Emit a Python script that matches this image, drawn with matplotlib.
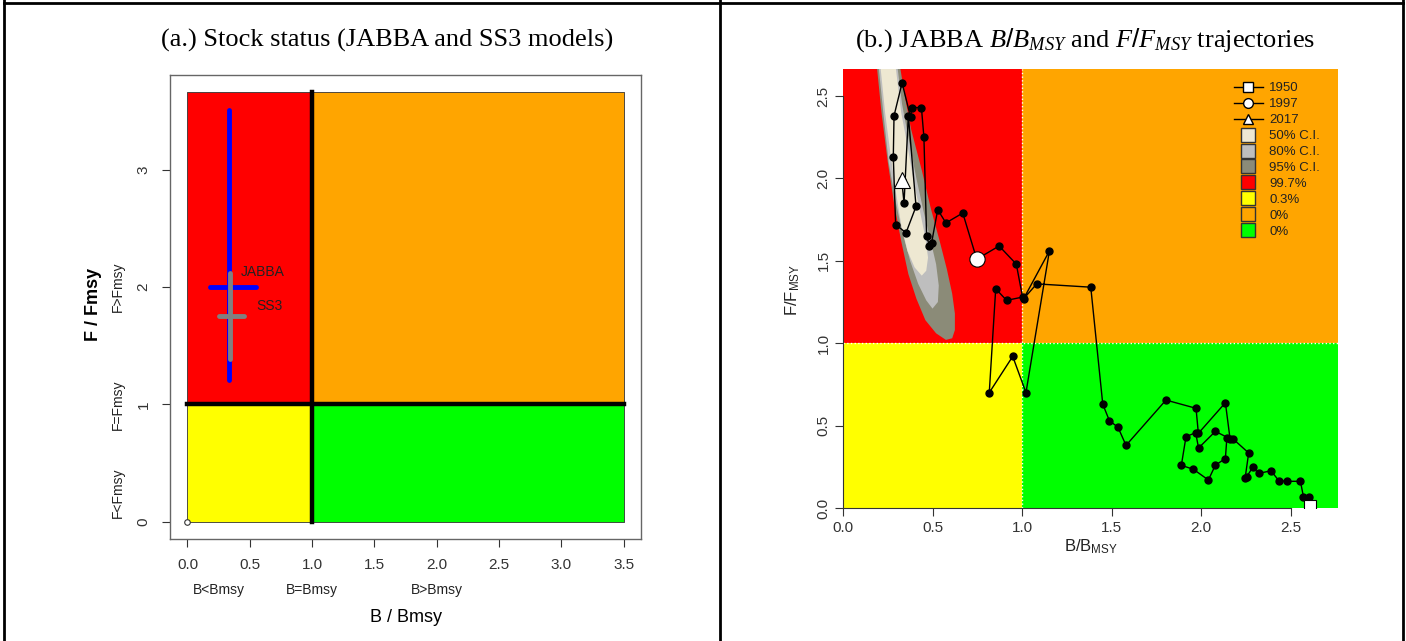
import matplotlib.pyplot as plt
from matplotlib.lines import Line2D

plt.rcParams['font.family'] = ['Liberation Sans', 'DejaVu Sans']
plt.rcParams['mathtext.fontset'] = 'custom'
plt.rcParams['mathtext.rm'] = 'Liberation Sans'
plt.rcParams['mathtext.it'] = 'Liberation Serif:italic'

# ---- panel (a): stock status, JABBA and SS3 ----
models = ["JABBA", "SS3"]
model_b = [0.33, 0.34]
model_f = [2.00, 1.75]
model_b_lo = [0.18, 0.25]
model_b_hi = [0.55, 0.45]
model_f_lo = [1.21, 1.39]
model_f_hi = [3.51, 2.12]
model_colors = ["blue", "grey"]
label_xy = [(0.43, 2.13), (0.55, 1.84)]

b_max_a = 3.5
f_max_a = 3.66
xticks_a = [0.0, 0.5, 1.0, 1.5, 2.0, 2.5, 3.0, 3.5]
yticks_a = [0, 1, 2, 3]
b_zone_labels = ["B<Bmsy", "B=Bmsy", "B>Bmsy"]
b_zone_pos = [0.25, 1.0, 2.0]
f_zone_labels = ["F<Fmsy", "F=Fmsy", "F>Fmsy"]
f_zone_pos = [0.25, 1.0, 2.0]

# ---- panel (b): JABBA trajectory 1950-2017 ----
traj_b = [2.611, 2.605, 2.572, 2.555, 2.479, 2.434, 2.391, 2.322, 2.289, 2.255,
          2.246, 2.266, 2.181, 2.144, 2.136, 2.080, 2.041, 1.957, 1.890, 1.916,
          1.970, 1.986, 2.080, 2.162, 2.136, 1.985, 1.972, 1.804, 1.581, 1.536,
          1.488, 1.451, 1.384, 1.082, 1.009, 1.153, 1.022, 0.948, 0.817, 0.853,
          0.914, 1.003, 0.968, 0.872, 0.747, 0.669, 0.575, 0.529, 0.495, 0.483,
          0.467, 0.452, 0.438, 0.384, 0.378, 0.330, 0.285, 0.281, 0.294, 0.352,
          0.408, 0.365, 0.341, 0.328]
traj_f = [0.012, 0.065, 0.069, 0.162, 0.162, 0.166, 0.226, 0.210, 0.247, 0.190,
          0.180, 0.334, 0.417, 0.423, 0.300, 0.260, 0.170, 0.235, 0.259, 0.433,
          0.457, 0.364, 0.465, 0.420, 0.639, 0.453, 0.605, 0.655, 0.380, 0.490,
          0.530, 0.630, 1.340, 1.360, 1.270, 1.560, 0.700, 0.920, 0.700, 1.330,
          1.260, 1.280, 1.480, 1.590, 1.510, 1.790, 1.730, 1.810, 1.610, 1.590,
          1.650, 2.250, 2.430, 2.430, 2.370, 2.580, 2.380, 2.130, 1.720, 1.670,
          1.830, 2.380, 1.850, 1.990]
year_labels = ["1950", "1997", "2017"]
year_index = [0, 44, 63]
year_markers = ["s", "o", "^"]

# kernel density regions of the last year (outline)
ci95_b = [0.19, 0.215, 0.25, 0.285, 0.325, 0.365, 0.41, 0.46, 0.52, 0.575, 0.61,
          0.625, 0.625, 0.61, 0.58, 0.54, 0.49, 0.44, 0.38, 0.345, 0.32]
ci95_f = [2.67, 2.40, 2.10, 1.85, 1.62, 1.42, 1.27, 1.14, 1.06, 1.02, 1.03,
          1.08, 1.18, 1.30, 1.45, 1.62, 1.82, 2.05, 2.30, 2.50, 2.67]
ci80_b = [0.20, 0.225, 0.255, 0.29, 0.33, 0.375, 0.42, 0.465, 0.50,
          0.53, 0.535, 0.52, 0.49, 0.45, 0.41, 0.365, 0.33, 0.305]
ci80_f = [2.67, 2.40, 2.10, 1.88, 1.68, 1.50, 1.36, 1.26, 1.21,
          1.25, 1.35, 1.48, 1.62, 1.80, 2.00, 2.25, 2.45, 2.67]
ci50_b = [0.21, 0.235, 0.265, 0.295, 0.325, 0.36, 0.40, 0.44,
          0.465, 0.475, 0.46, 0.43, 0.395, 0.36, 0.325, 0.295]
ci50_f = [2.67, 2.40, 2.15, 1.92, 1.72, 1.56, 1.46, 1.41,
          1.44, 1.52, 1.64, 1.80, 1.98, 2.20, 2.40, 2.67]
ci_colors = ["#8b8b78", "#bebebe", "#eee8d2"]
ci_labels = ["50% C.I.", "80% C.I.", "95% C.I."]
quad_labels = ["99.7%", "0.3%", "0%", "0%"]
quad_colors = ["#ff0000", "#ffff00", "#ffa500", "#00ff00"]

xlim_b = (0, 2.765)
ylim_b = (0, 2.664)
ticks_b = [0.0, 0.5, 1.0, 1.5, 2.0, 2.5]

fig = plt.figure(figsize=(14.06, 6.41), dpi=100)

# table borders around the two cells
for xs, ys in [([0.003, 0.003], [0, 1]), ([0.512, 0.512], [0, 1]),
               ([0.998, 0.998], [0, 1]), ([0.003, 0.998], [0.995, 0.995])]:
    fig.add_artist(Line2D(xs, ys, transform=fig.transFigure, color="black", lw=2))

fig.text(387 / 1406, 1 - 40 / 641, "(a.) Stock status (JABBA and SS3 models)",
         family="Liberation Serif", fontsize=19, ha="center", va="center")
fig.text(1085 / 1406, 1 - 40 / 641,
         r"(b.) JABBA $\mathit{B/B_{MSY}}$ and $\mathit{F/F_{MSY}}$ trajectories",
         family="Liberation Serif", fontsize=19, ha="center", va="center")

# ---------------- panel a ----------------
ax1 = fig.add_axes([170 / 1406, (641 - 539) / 641, 471 / 1406, 464 / 641])
ax1.fill_between([0, 1], 1, f_max_a, color="#ff0000", ec="#333333", lw=0.6)
ax1.fill_between([1, b_max_a], 1, f_max_a, color="#ffa500", ec="#333333", lw=0.6)
ax1.fill_between([0, 1], 0, 1, color="#ffff00", ec="#333333", lw=0.6)
ax1.fill_between([1, b_max_a], 0, 1, color="#00ff00", ec="#333333", lw=0.6)
ax1.plot([0, b_max_a], [1, 1], color="black", lw=3.2)
ax1.plot([1, 1], [0, f_max_a], color="black", lw=3.2)
ax1.plot([0], [0], marker="o", ms=4, mfc="white", mec="#333333", mew=0.8)

for i in range(len(models)):
    ax1.plot([model_b[i], model_b[i]], [model_f_lo[i], model_f_hi[i]],
             color=model_colors[i], lw=3.5, solid_capstyle="round")
    ax1.plot([model_b_lo[i], model_b_hi[i]], [model_f[i], model_f[i]],
             color=model_colors[i], lw=3.5, solid_capstyle="round")
    ax1.text(label_xy[i][0], label_xy[i][1], models[i], fontsize=10,
             ha="left", va="center", color="#222222")

ax1.set_xlim(-0.14, 3.64)
ax1.set_ylim(-0.146, 3.806)
ax1.set_xticks(xticks_a)
ax1.set_xticklabels([f"{v:.1f}" for v in xticks_a])
ax1.set_yticks(yticks_a)
ax1.set_yticklabels([str(v) for v in yticks_a], rotation=90, va="center")
ax1.tick_params(direction="out", length=6, width=0.8, labelsize=11,
                colors="#333333", pad=8)
for s in ax1.spines.values():
    s.set_color("#666666")
    s.set_linewidth(1.0)

for lab, pos in zip(b_zone_labels, b_zone_pos):
    ax1.text(pos, -0.11, lab, transform=ax1.get_xaxis_transform(),
             fontsize=10, ha="center", va="center", color="#222222")
for lab, pos in zip(f_zone_labels, f_zone_pos):
    ax1.text(-0.11, pos, lab, transform=ax1.get_yaxis_transform(),
             fontsize=10, ha="center", va="center", rotation=90, color="#222222")
ax1.text(0.5, -0.17, "B / Bmsy", transform=ax1.transAxes, fontsize=13,
         ha="center", va="center")
ax1.text(-0.163, 0.505, "F / Fmsy", transform=ax1.transAxes, fontsize=13,
         ha="center", va="center", rotation=90, fontweight="bold")

# ---------------- panel b ----------------
ax2 = fig.add_axes([843 / 1406, (641 - 508) / 641, 495 / 1406, 439 / 641])
ax2.fill_between([0, 1], 1, 10, color=quad_colors[0], lw=0)
ax2.fill_between([1, 10], 1, 10, color=quad_colors[2], lw=0)
ax2.fill_between([0, 1], 0, 1, color=quad_colors[1], lw=0)
ax2.fill_between([1, 10], 0, 1, color=quad_colors[3], lw=0)
ax2.fill(ci95_b, ci95_f, color=ci_colors[0], lw=0)
ax2.fill(ci80_b, ci80_f, color=ci_colors[1], lw=0)
ax2.fill(ci50_b, ci50_f, color=ci_colors[2], lw=0)
ax2.axvline(1, color="white", ls=":", lw=1)
ax2.axhline(1, color="white", ls=":", lw=1)

ax2.plot(traj_b, traj_f, color="black", lw=1, marker="o", ms=5)
for i, m in zip(year_index, year_markers):
    ax2.plot(traj_b[i], traj_f[i], marker=m, ms=11 if m != "s" else 9,
             mfc="white", mec="black", mew=0.8, ls="none")

ax2.set_xlim(*xlim_b)
ax2.set_ylim(*ylim_b)
ax2.set_xticks(ticks_b)
ax2.set_xticklabels([f"{v:.1f}" for v in ticks_b])
ax2.set_yticks(ticks_b)
ax2.set_yticklabels([f"{v:.1f}" for v in ticks_b], rotation=90, va="center")
ax2.tick_params(direction="out", length=6, width=0.8, labelsize=11,
                colors="#333333", pad=3)
ax2.spines["top"].set_visible(False)
ax2.spines["right"].set_visible(False)
for side in ["left", "bottom"]:
    ax2.spines[side].set_bounds(0, 2.5)
    ax2.spines[side].set_color("#333333")
ax2.text(0.5, -0.089, r"$\mathrm{B/B_{MSY}}$", transform=ax2.transAxes,
         fontsize=12, ha="center", va="center", color="#222222")
ax2.text(-0.101, 0.497, r"$\mathrm{F/F_{MSY}}$", transform=ax2.transAxes,
         fontsize=12, ha="center", va="center", rotation=90, color="#222222")

handles = [Line2D([], [], color="black", lw=1, marker=m, ms=7, mfc="white",
                  mec="black") for m in year_markers]
handles += [Line2D([], [], ls="none", marker="s", ms=10, mfc=c, mec="#333333")
            for c in ci_colors[::-1]]
handles += [Line2D([], [], ls="none", marker="s", ms=10, mfc=c, mec="#333333")
            for c in quad_colors]
ax2.legend(handles, year_labels + ci_labels + quad_labels, loc="upper left",
           bbox_to_anchor=(0.776, 0.985), frameon=False, fontsize=9.5,
           handlelength=2.2, handletextpad=0.5, labelspacing=0.28,
           borderpad=0, labelcolor="#222222")

fig.savefig("out.png", dpi=100)
